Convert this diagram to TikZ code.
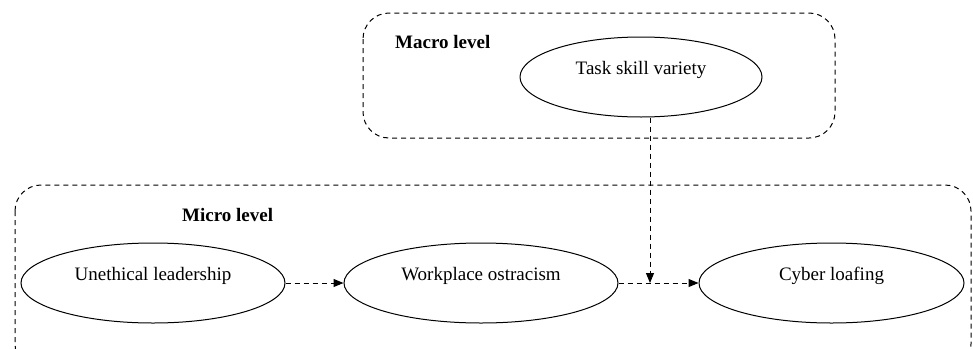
\documentclass[tikz,border=0pt]{standalone}
\usepackage{fontspec}
\setmainfont{Liberation Serif}
\usetikzlibrary{positioning,arrows.meta,shapes.geometric}

\begin{document}
\begin{tikzpicture}[x=1pt, y=1pt,
    construct/.style = {draw, ellipse, line width=1pt, minimum height=80pt,
        inner sep=0pt, text height=14pt, text depth=20pt,
        font=\fontsize{19}{23}\selectfont},
    region/.style = {draw, dashed, dash pattern=on 5pt off 4pt, line width=1pt, rounded corners=26pt},
    level/.style = {anchor=base west, inner sep=0pt, font=\fontsize{19}{23}\selectfont\bfseries},
    link/.style = {draw, dash pattern=on 5pt off 4pt, line width=1pt, -{Triangle[length=10pt,width=8pt]}}]
    \clip (0,0) rectangle (973,-348);

    % the two levels
    \draw[region] (363,-13) rectangle (835,-138);
    \draw[region] (15,-185) rectangle (971,-370);

    \node[level] (macro) at (395,-48) {Macro level};
    \node[level] (micro) at (182,-221) {Micro level};

    \node[construct, minimum width=242pt] (tsv) at (641,-77) {Task skill variety};

    \node[construct, minimum width=264pt] (ul) at (153,-283) {Unethical leadership};
    \node[construct, minimum width=274pt] (wo) [right=58pt of ul] {Workplace ostracism};
    \node[construct, minimum width=265pt] (cl) [right=80pt of wo] {Cyber loafing};

    \coordinate (mod) at (650,-283);

    \draw[link] (ul) -- (wo);
    \draw[link] (wo) -- (cl);
    \draw[link] (tsv.south -| mod) -- (mod);

\end{tikzpicture}
\end{document}
